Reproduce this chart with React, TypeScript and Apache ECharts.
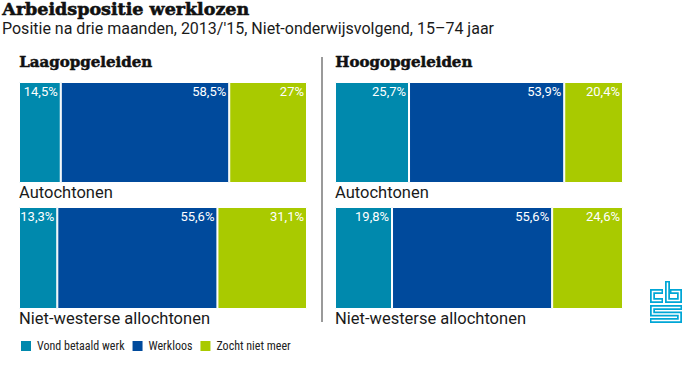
import React, { useEffect, useRef } from "react";
import * as echarts from "echarts";

const chartTitle = "Arbeidspositie werklozen";
const chartSubtitle = "Positie na drie maanden, 2013/'15, Niet-onderwijsvolgend, 15–74 jaar";
const panels = ["Laagopgeleiden", "Hoogopgeleiden"];
const groups = ["Autochtonen", "Niet-westerse allochtonen"];
const seriesNames = ["Vond betaald werk", "Werkloos", "Zocht niet meer"];
const colors = ["#0089ad", "#004a9c", "#a9ca00"];

// [Autochtonen, Niet-westerse allochtonen]
const laagVond = [14.5, 13.3];
const laagWerkloos = [58.5, 55.6];
const laagZocht = [27, 31.1];
const hoogVond = [25.7, 19.8];
const hoogWerkloos = [53.9, 55.6];
const hoogZocht = [20.4, 24.6];

const panelData = [
  [laagVond, laagWerkloos, laagZocht],
  [hoogVond, hoogWerkloos, hoogZocht],
];

const SANS = "Roboto, 'Noto Sans', sans-serif";
const NARROW = "'Liberation Sans Narrow', 'Roboto Condensed', 'DejaVu Sans Condensed', Roboto, sans-serif";
const SERIF = "'DejaVu Serif', serif";

export default function App() {
  const ref = useRef<HTMLDivElement>(null);
  useEffect(() => {
    document.body.style.margin = "0";
    const chart = echarts.init(ref.current!, null, { renderer: "svg" });
    const panelLeft = [19, 335];
    const barTop = [82, 207];
    const barH = [101, 102];
    const barW = 288;

    const grids: any[] = [];
    const xAxes: any[] = [];
    const yAxes: any[] = [];
    const series: any[] = [];
    const graphics: any[] = [];

    panels.forEach((p, pi) => {
      graphics.push({
        type: "text",
        left: panelLeft[pi],
        top: 54,
        style: { text: p, font: `bold 15px ${SERIF}`, fill: "#111", stroke: "#111", lineWidth: 0.5 },
      });
      groups.forEach((g, gi) => {
        const idx = grids.length;
        grids.push({ left: panelLeft[pi], top: barTop[gi], width: barW, height: barH[gi] });
        xAxes.push({ type: "value", min: 0, max: 100, show: false, gridIndex: idx });
        yAxes.push({ type: "category", data: [g], show: false, gridIndex: idx });
        seriesNames.forEach((s, si) => {
          series.push({
            type: "bar",
            name: s,
            stack: "s" + idx,
            xAxisIndex: idx,
            yAxisIndex: idx,
            barWidth: "100%",
            data: [panelData[pi][si][gi]],
            itemStyle: { color: colors[si], borderColor: "#ffffff", borderWidth: 1 },
            label: {
              show: true,
              position: "insideTopRight",
              distance: 3,
              color: "#ffffff",
              fontFamily: SANS,
              fontSize: 13,
              formatter: (d: any) => String(d.value).replace(".", ",") + "%",
            },
          });
        });
        graphics.push({
          type: "text",
          left: panelLeft[pi],
          top: barTop[gi] + barH[gi] + 1,
          style: { text: g, font: `16.5px ${SANS}`, fill: "#1a1a1a" },
        });
      });
    });

    graphics.push({
      type: "text",
      left: 2,
      top: 0,
      style: { text: chartTitle, font: `bold 17.5px ${SERIF}`, fill: "#111", stroke: "#111", lineWidth: 0.6 },
    });
    graphics.push({
      type: "text",
      left: 2,
      top: 20,
      style: { text: chartSubtitle, font: `16px ${SANS}`, fill: "#1a1a1a" },
    });
    graphics.push({
      type: "line",
      shape: { x1: 322, y1: 57, x2: 322, y2: 322 },
      style: { stroke: "#9a9a9a", lineWidth: 2 },
    });

    const logoOuter = [
      [[13, 10.5], [2.5, 10.5], [2.5, 19.5], [13, 19.5]],
      [[17.5, 0], [17.5, 19.5], [29.5, 19.5], [29.5, 10.5], [20, 10.5]],
      [[32, 26.5], [2.5, 26.5], [2.5, 33], [29.5, 33], [29.5, 39.5], [0, 39.5]],
    ];
    const logoInner = [
      [[11.5, 10.5], [2.5, 10.5], [2.5, 19.5], [11.5, 19.5]],
      [[17.5, 1.5], [17.5, 19.5], [29.5, 19.5], [29.5, 10.5], [21.5, 10.5]],
      [[30.5, 26.5], [2.5, 26.5], [2.5, 33], [29.5, 33], [29.5, 39.5], [1.5, 39.5]],
    ];
    const logoChildren: any[] = [];
    logoOuter.forEach((pts) => {
      logoChildren.push({
        type: "polyline",
        shape: { points: pts },
        style: { stroke: "#00a6d6", lineWidth: 5, fill: null, lineJoin: "miter" },
      });
    });
    logoInner.forEach((pts) => {
      logoChildren.push({
        type: "polyline",
        shape: { points: pts },
        style: { stroke: "#ffffff", lineWidth: 1.5, fill: null, lineJoin: "miter" },
      });
    });
    graphics.push({ type: "group", x: 650, y: 281, children: logoChildren });

    chart.setOption({
      animation: false,
      backgroundColor: "#ffffff",
      grid: grids,
      xAxis: xAxes,
      yAxis: yAxes,
      series,
      legend: {
        data: seriesNames,
        left: 14,
        top: 334,
        itemWidth: 12,
        itemHeight: 12,
        itemGap: 6,
        icon: "rect",
        textStyle: { fontFamily: NARROW, fontSize: 12, color: "#222" },
      },
      graphic: graphics,
    });
    return () => chart.dispose();
  }, []);
  return (
    <div
      ref={ref}
      style={{ position: "fixed", left: 0, top: 0, width: 700, height: 376 }}
    />
  );
}
